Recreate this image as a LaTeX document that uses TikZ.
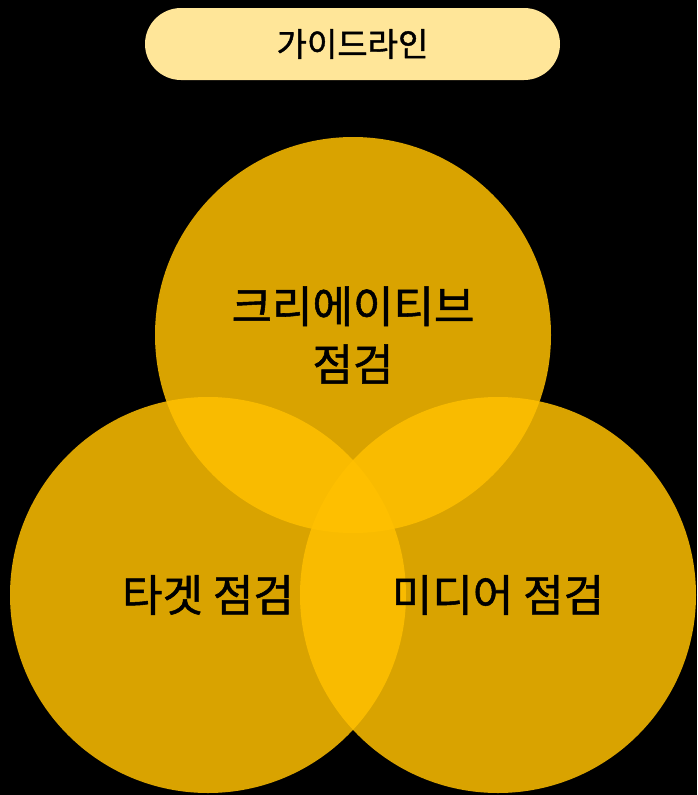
\documentclass[tikz,border=0pt]{standalone}
\usepackage{fontspec}
\setmainfont{Noto Sans CJK KR}[FakeBold=1.2]
\usepackage{xcolor}
\usetikzlibrary{positioning}
\definecolor{GuideLight}{HTML}{FFE699}
\definecolor{CheckGold}{HTML}{FFC000}

\begin{document}
\begin{tikzpicture}[
  x=1pt, y=-1pt,
  pill/.style={draw=none,fill=GuideLight,rounded corners=36pt,minimum width=415pt,minimum height=72pt,font=\fontsize{33}{38}\selectfont},
  check/.style={circle,fill=CheckGold,fill opacity=0.85,text opacity=1,minimum size=396pt,inner sep=0pt,align=center,font=\fontsize{44}{58}\selectfont}
]
  \fill[black] (0,0) rectangle (697,795);
  \useasboundingbox (0,0) rectangle (697,795);

  \node[pill] (guide) at (352.5,44) {가이드라인};

  \node[check] (creative) at (353,335) {크리에이티브\\점검};
  \node[check] (target) at (208,595) {타겟 점검};
  \node[check] (media) at (498,595) {미디어 점검};
\end{tikzpicture}
\end{document}
